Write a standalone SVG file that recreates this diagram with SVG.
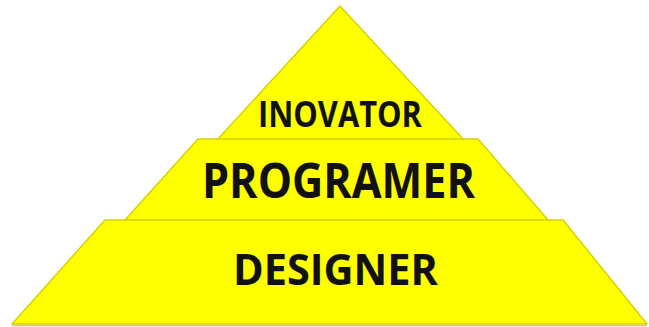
<svg xmlns="http://www.w3.org/2000/svg" width="649" height="327" viewBox="0 0 649 327">
<style>
.lvl{fill:#ffff00;stroke:#d4d400;stroke-width:1.5;stroke-linejoin:round}
.lbl{font-family:"Open Sans","Noto Sans",sans-serif;font-weight:bold;fill:#111;text-anchor:middle}
</style>
<rect width="649" height="327" fill="#ffffff"/>
<line x1="12" y1="325.5" x2="647" y2="325.5" stroke="#e8b8a0" stroke-width="1.5"/>
<g id="inovator">
<polygon class="lvl" points="340,6 217,140 464,140"/>
<text class="lbl" x="340" y="127" font-size="35" textLength="164" lengthAdjust="spacingAndGlyphs">INOVATOR</text>
</g>
<g id="programer">
<polygon class="lvl" points="198,139 478,139 548,220 125,220"/>
<text class="lbl" x="338.5" y="198" font-size="48" textLength="273" lengthAdjust="spacingAndGlyphs">PROGRAMER</text>
</g>
<g id="designer">
<polygon class="lvl" points="105,220 563,220 647,324 12,324"/>
<text class="lbl" x="335.5" y="285" font-size="43" textLength="205" lengthAdjust="spacingAndGlyphs">DESIGNER</text>
</g>
<g id="connectors"/>
</svg>
